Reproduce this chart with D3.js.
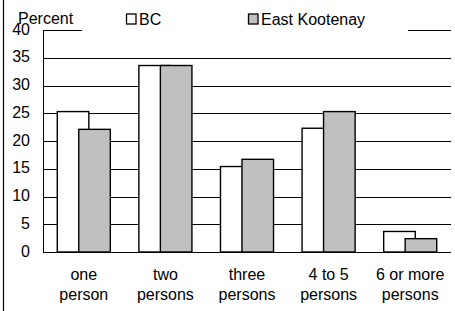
<!DOCTYPE html>
<html>
<head>
<meta charset="utf-8">
<script src="https://cdn.jsdelivr.net/npm/d3@7"></script>
<style>
  html, body { margin: 0; padding: 0; background: #fff; }
  svg { display: block; }
  text { font-family: "Liberation Sans", Arial, sans-serif; font-size: 16px; fill: #000; }
</style>
</head>
<body>
<svg id="chart" width="455" height="311"></svg>
<script>
const categories = [["one", "person"], ["two", "persons"], ["three", "persons"], ["4 to 5", "persons"], ["6 or more", "persons"]];
const seriesNames = ["BC", "East Kootenay"];
const bcValues = [25.3, 33.6, 15.4, 22.3, 3.7];
const ekValues = [22.1, 33.6, 16.7, 25.3, 2.4];
const yTicks = [0, 5, 10, 15, 20, 25, 30, 35, 40];
const colors = ["#ffffff", "#c0c0c0"];

const svg = d3.select("#chart");
const mLeft = 43, mRight = 451, mTop = 30, mBottom = 252;

const x = d3.scaleBand().domain(categories.map((d, i) => i)).range([mLeft, mRight]).paddingInner(0.35).paddingOuter(0.175);
const y = d3.scaleLinear().domain([0, 40]).range([mBottom, mTop]);

// left frame line
svg.append("line").attr("x1", 3.5).attr("x2", 3.5).attr("y1", 0).attr("y2", 311)
  .attr("stroke", "#000").attr("stroke-width", 1.2);

// gridlines
svg.append("g").selectAll("line").data(yTicks).join("line")
  .attr("x1", mLeft).attr("x2", mRight)
  .attr("y1", d => Math.round(y(d)) + 0.5).attr("y2", d => Math.round(y(d)) + 0.5)
  .attr("stroke", "#000").attr("stroke-width", 1);

// y axis line
svg.append("line").attr("x1", mLeft + 0.5).attr("x2", mLeft + 0.5)
  .attr("y1", Math.round(y(40)) + 0.5).attr("y2", Math.round(y(0)) + 0.5)
  .attr("stroke", "#000").attr("stroke-width", 1);

// y labels
svg.append("g").selectAll("text").data(yTicks).join("text")
  .attr("x", 30).attr("y", d => y(d) + 4.5)
  .attr("text-anchor", "end").text(d => d);

// bars
const bw = x.bandwidth() * 0.595;
const g = svg.append("g");
const series = [bcValues, ekValues];
series.forEach((vals, si) => {
  g.append("g").selectAll("rect").data(vals).join("rect")
    .attr("x", (d, i) => si === 0 ? x(i) : x(i) + x.bandwidth() - bw)
    .attr("width", bw)
    .attr("y", d => y(d))
    .attr("height", d => y(0) - y(d))
    .attr("fill", colors[si])
    .attr("stroke", "#000").attr("stroke-width", 1.4);
});

// x labels
const xl = svg.append("g").selectAll("text").data(categories).join("text")
  .attr("text-anchor", "middle");
xl.append("tspan").attr("x", (d, i) => x(i) + x.bandwidth() / 2).attr("y", 280).text(d => d[0]);
xl.append("tspan").attr("x", (d, i) => x(i) + x.bandwidth() / 2).attr("y", 300).text(d => d[1]);

// legend background
svg.append("rect").attr("x", 82).attr("y", 0).attr("width", 326).attr("height", 36).attr("fill", "#fff");

// y title
svg.append("text").attr("x", 18).attr("y", 23.5).text("Percent");

// legend
const legendX = [126, 248];
const lg = svg.append("g").selectAll("g").data(seriesNames).join("g")
  .attr("transform", (d, i) => `translate(${legendX[i]},0)`);
lg.append("rect").attr("x", 0.5).attr("y", 14).attr("width", 9.5).attr("height", 10)
  .attr("fill", (d, i) => colors[i]).attr("stroke", "#000").attr("stroke-width", 1.3);
lg.append("text").attr("x", 13).attr("y", 25).text(d => d);
</script>
</body>
</html>
